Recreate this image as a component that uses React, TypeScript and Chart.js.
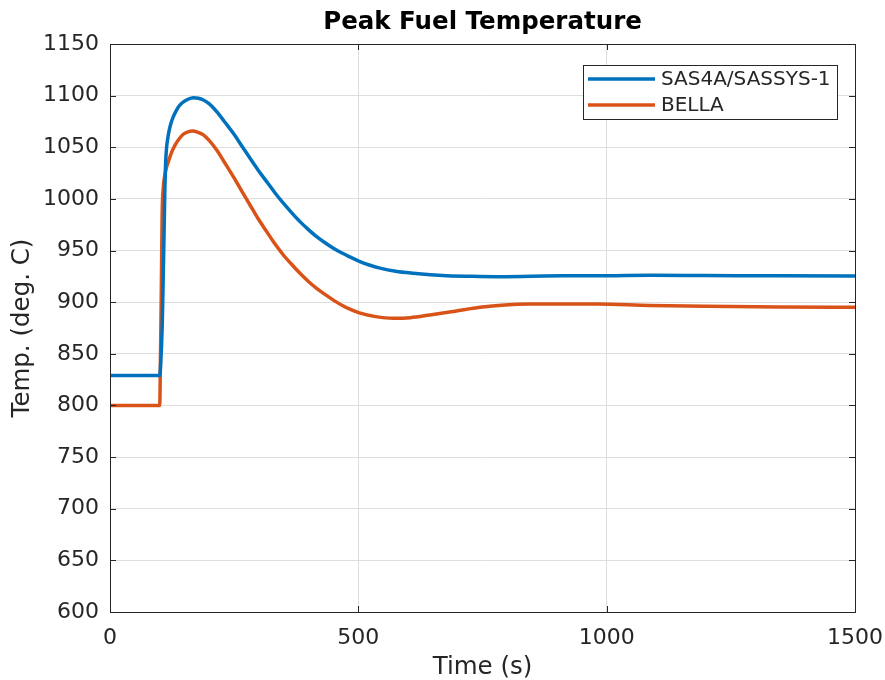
import React, { useEffect, useRef } from "react";
import { Chart, registerables } from "chart.js";

Chart.register(...registerables);

const TITLE = "Peak Fuel Temperature";
const X_LABEL = "Time (s)";
const Y_LABEL = "Temp. (deg. C)";
const SERIES_NAMES = ["SAS4A/SASSYS-1", "BELLA"];
const COLORS = ["#0072BD", "#D95319"];

const sasTime = [0, 100, 102, 105, 107, 109, 110.5, 112, 114, 117.4, 122, 127.5, 134, 141, 153, 167.8, 178, 188, 200, 214.8, 231, 248.3, 265, 282, 298, 315.5, 332, 349, 366, 382.5, 399, 416, 433, 449.7, 466, 483, 502, 522, 543.6, 575, 610.7, 645, 677.9, 730, 778.5, 850, 912.7, 1000, 1087, 1200, 1350, 1500];
const sasTemp = [829, 829, 840, 875, 920, 970, 1010, 1035, 1050, 1062, 1072, 1079.6, 1086, 1091, 1095.5, 1098, 1097.5, 1095.8, 1092, 1084.5, 1074.5, 1063.5, 1051.5, 1039.3, 1028, 1016.7, 1006, 995.8, 986.5, 978, 970.5, 963.4, 957.5, 952.2, 947.8, 943.8, 939.6, 936, 933, 930, 928, 926.6, 925.7, 925, 924.7, 925.1, 925.5, 925.6, 926, 925.8, 925.5, 925.4];

const bellaTime = [0, 100, 102, 103.5, 105, 107.5, 110, 114, 117.4, 124, 131, 139, 147.6, 157, 166.4, 177, 187.9, 200, 214.8, 231, 248.3, 265, 281.9, 298, 315.5, 332, 349, 366, 382.5, 399, 416, 433, 449.7, 466, 483, 502, 535, 570, 605, 644, 695, 745, 795, 845.6, 910, 980, 1087, 1200, 1350, 1500];
const bellaTemp = [800, 800, 860, 920, 985, 1012, 1022, 1031, 1036, 1045, 1052, 1058, 1062.6, 1065, 1065.8, 1064.5, 1062, 1056.5, 1047.4, 1035, 1021.5, 1007.8, 994.1, 981, 968.3, 956.5, 945.7, 936.5, 928, 920.3, 913.4, 907.5, 902, 897.3, 893.2, 889.6, 886, 884.4, 885, 887.6, 891.3, 895, 897.3, 898.2, 898.3, 898.2, 896.8, 896, 895.4, 895];

const X_MIN = 0, X_MAX = 1500, X_STEP = 500;
const Y_MIN = 600, Y_MAX = 1150, Y_STEP = 50;

const FONT = "'DejaVu Sans', sans-serif";
const TEXT = "#262626";

export default function App() {
  const ref = useRef<HTMLCanvasElement | null>(null);
  useEffect(() => {
    if (!ref.current) return;
    const decor = {
      id: "decor",
      afterDraw(chart: any) {
        const { ctx, chartArea: a, scales } = chart;
        ctx.save();
        // title
        ctx.fillStyle = "#000";
        ctx.font = `bold 24.5px ${FONT}`;
        ctx.textAlign = "center";
        ctx.textBaseline = "middle";
        ctx.fillText(TITLE, (a.left + a.right) / 2, 23);
        // box
        ctx.strokeStyle = TEXT;
        ctx.lineWidth = 1;
        ctx.strokeRect(Math.round(a.left) + 0.5, Math.round(a.top) + 0.5, Math.round(a.right - a.left), Math.round(a.bottom - a.top));
        // tick marks inward
        const tl = 6;
        ctx.beginPath();
        scales.y.ticks.forEach((t: any) => {
          const y = Math.round(scales.y.getPixelForValue(t.value)) + 0.5;
          ctx.moveTo(a.left, y); ctx.lineTo(a.left + tl, y);
          ctx.moveTo(a.right, y); ctx.lineTo(a.right - tl, y);
        });
        scales.x.ticks.forEach((t: any) => {
          const x = Math.round(scales.x.getPixelForValue(t.value)) + 0.5;
          ctx.moveTo(x, a.bottom); ctx.lineTo(x, a.bottom - tl);
          ctx.moveTo(x, a.top); ctx.lineTo(x, a.top + tl);
        });
        ctx.stroke();
        // legend
        const bx = Math.round(a.right) - 272, by = Math.round(a.top) + 21, bw = 254, bh = 54;
        ctx.fillStyle = "#fff";
        ctx.fillRect(bx, by, bw, bh);
        ctx.strokeStyle = TEXT;
        ctx.lineWidth = 1;
        ctx.strokeRect(bx + 0.5, by + 0.5, bw, bh);
        ctx.font = `20px ${FONT}`;
        ctx.textAlign = "left";
        SERIES_NAMES.forEach((name, i) => {
          const y = by + 14 + i * 26;
          ctx.strokeStyle = COLORS[i];
          ctx.lineWidth = 3.5;
          ctx.beginPath();
          ctx.moveTo(bx + 5, y); ctx.lineTo(bx + 72, y);
          ctx.stroke();
          ctx.fillStyle = TEXT;
          ctx.fillText(name, bx + 78, y + 1);
        });
        ctx.restore();
      },
    };
    const chart = new Chart(ref.current, {
      type: "line",
      data: {
        datasets: [
          {
            label: SERIES_NAMES[0],
            data: sasTime.map((t, i) => ({ x: t, y: sasTemp[i] })),
            borderColor: COLORS[0],
            borderWidth: 3.5,
            pointRadius: 0,
            cubicInterpolationMode: "monotone",
          },
          {
            label: SERIES_NAMES[1],
            data: bellaTime.map((t, i) => ({ x: t, y: bellaTemp[i] })),
            borderColor: COLORS[1],
            borderWidth: 3.5,
            pointRadius: 0,
            cubicInterpolationMode: "monotone",
          },
        ],
      },
      options: {
        animation: false,
        responsive: true,
        maintainAspectRatio: false,
        layout: { padding: { top: 44, right: 30, left: 0, bottom: 0 } },
        plugins: { legend: { display: false }, title: { display: false }, tooltip: { enabled: false } },
        scales: {
          x: {
            type: "linear",
            min: X_MIN,
            max: X_MAX,
            afterFit: (s: any) => { s.height = 68; s.paddingLeft = 0; s.paddingRight = 0; },
            ticks: { stepSize: X_STEP, color: TEXT, font: { family: FONT, size: 22 }, padding: 13, maxRotation: 0, callback: (v: any) => String(v) },
            grid: { color: "#dedede", drawTicks: false },
            border: { display: false },
            title: { display: true, text: X_LABEL, color: TEXT, font: { family: FONT, size: 24.5, lineHeight: 1.0 }, padding: { top: 0, bottom: 0 } },
          },
          y: {
            type: "linear",
            min: Y_MIN,
            max: Y_MAX,
            afterFit: (s: any) => { s.width = 110; s.paddingTop = 0; s.paddingBottom = 0; },
            ticks: { stepSize: Y_STEP, color: TEXT, font: { family: FONT, size: 22 }, padding: 11, callback: (v: any) => String(v) },
            grid: { color: "#dedede", drawTicks: false },
            border: { display: false },
            title: { display: true, text: Y_LABEL, color: TEXT, font: { family: FONT, size: 24.5 }, padding: { top: 7.5, bottom: 0 } },
          },
        },
      },
      plugins: [decor],
    });
    return () => chart.destroy();
  }, []);
  return (
    <div style={{ position: "fixed", left: 0, top: 0, width: 885, height: 680, background: "#fff" }}>
      <canvas ref={ref} />
    </div>
  );
}
